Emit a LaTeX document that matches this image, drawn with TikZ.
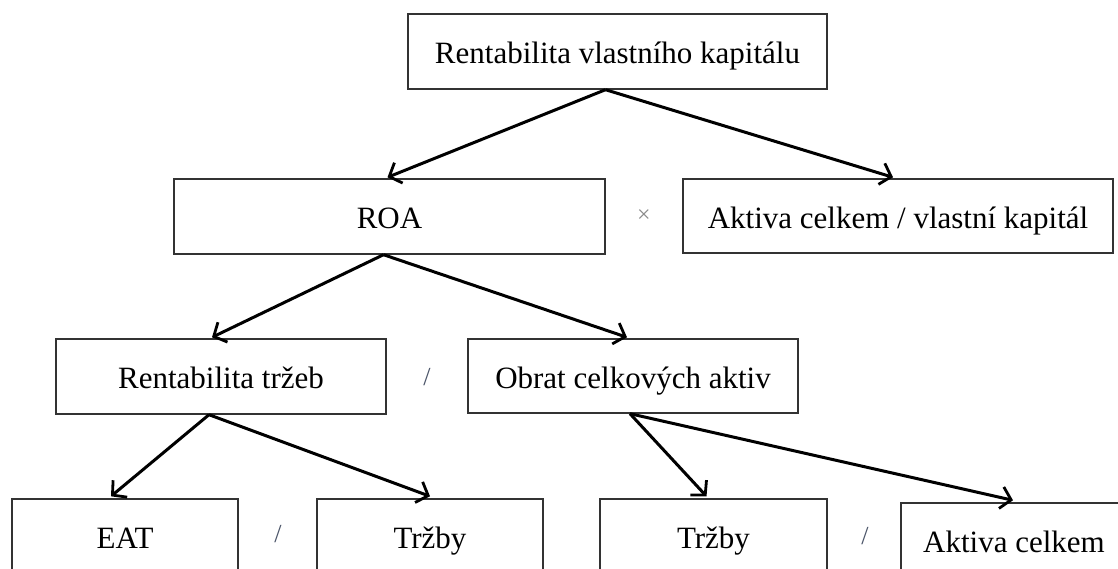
\documentclass[tikz,border=0pt]{standalone}
\usepackage{fontspec}
\setmainfont{Liberation Serif}
\usetikzlibrary{arrows.meta}
\definecolor{boxline}{HTML}{333333}
\definecolor{opgray}{HTML}{8A8A8A}
\definecolor{slashcol}{HTML}{4A5468}
\tikzset{
  box/.style={draw=boxline, line width=1.4pt, rectangle, inner sep=0pt,
    font=\fontsize{31}{36}\selectfont, text=black, text height=26pt, text depth=2pt},
  arr/.style={line width=3pt, draw=black, -{Straight Barb[length=10pt,width=22pt,line width=2.8pt]}},
  optimes/.style={font=\fontsize{24}{28}\selectfont, text=opgray, inner sep=0pt},
  opslash/.style={font=\fontsize{26}{30}\selectfont, text=slashcol, inner sep=0pt}
}
\begin{document}
\begin{tikzpicture}[x=1pt,y=-1pt]
\useasboundingbox (0,0) rectangle (1118,568);
\clip (0,0) rectangle (1118,568);
\fill[white] (0,0) rectangle (1118,568);
% level 0
\node[box, minimum width=419, minimum height=75] (top) at (617.5,51.5) {Rentabilita vlastního kapitálu};
% level 1
\node[box, minimum width=431, minimum height=75] (roa) at (389.5,216.5) {ROA};
\node[box, minimum width=430, minimum height=74] (akvk) at (898,216) {Aktiva celkem / vlastní kapitál};
\node[optimes] (times) at (644,216) {×};
% level 2
\node[box, minimum width=330, minimum height=75] (rt) at (221,376.5) {Rentabilita tržeb};
\node[box, minimum width=330, minimum height=74] (oca) at (633,376) {Obrat celkových aktiv};
\node[opslash] (s1) at (427,377) {/};
% level 3
\node[box, minimum width=226, minimum height=75] (eat) at (125,536.5) {EAT};
\node[box, minimum width=226, minimum height=75] (t1) at (430,536.5) {Tržby};
\node[opslash] (s2) at (278,534) {/};
\node[box, minimum width=227, minimum height=75] (t2) at (713.5,536.5) {Tržby};
\node[box, minimum width=226, minimum height=75] (ac) at (1014,540.5) {Aktiva celkem};
\node[opslash] (s3) at (865,536) {/};
% arrows
\draw[arr] ([xshift=-12]top.south) -- ([xshift=-2,yshift=1]roa.north);
\draw[arr] ([xshift=-12]top.south) -- ([xshift=-5,yshift=1]akvk.north);
\draw[arr] ([xshift=-6]roa.south) -- ([xshift=-9,yshift=1]rt.north);
\draw[arr] ([xshift=-6]roa.south) -- ([xshift=-6,yshift=1]oca.north);
\draw[arr] ([xshift=-12]rt.south) -- ([xshift=-14,yshift=2]eat.north);
\draw[arr] ([xshift=-12]rt.south) -- ([yshift=2]t1.north);
\draw[arr] ([xshift=-3]oca.south) -- ([xshift=-7,yshift=2]t2.north);
\draw[arr] ([xshift=-3]oca.south) -- ([xshift=-1,yshift=2]ac.north);
\end{tikzpicture}
\end{document}
